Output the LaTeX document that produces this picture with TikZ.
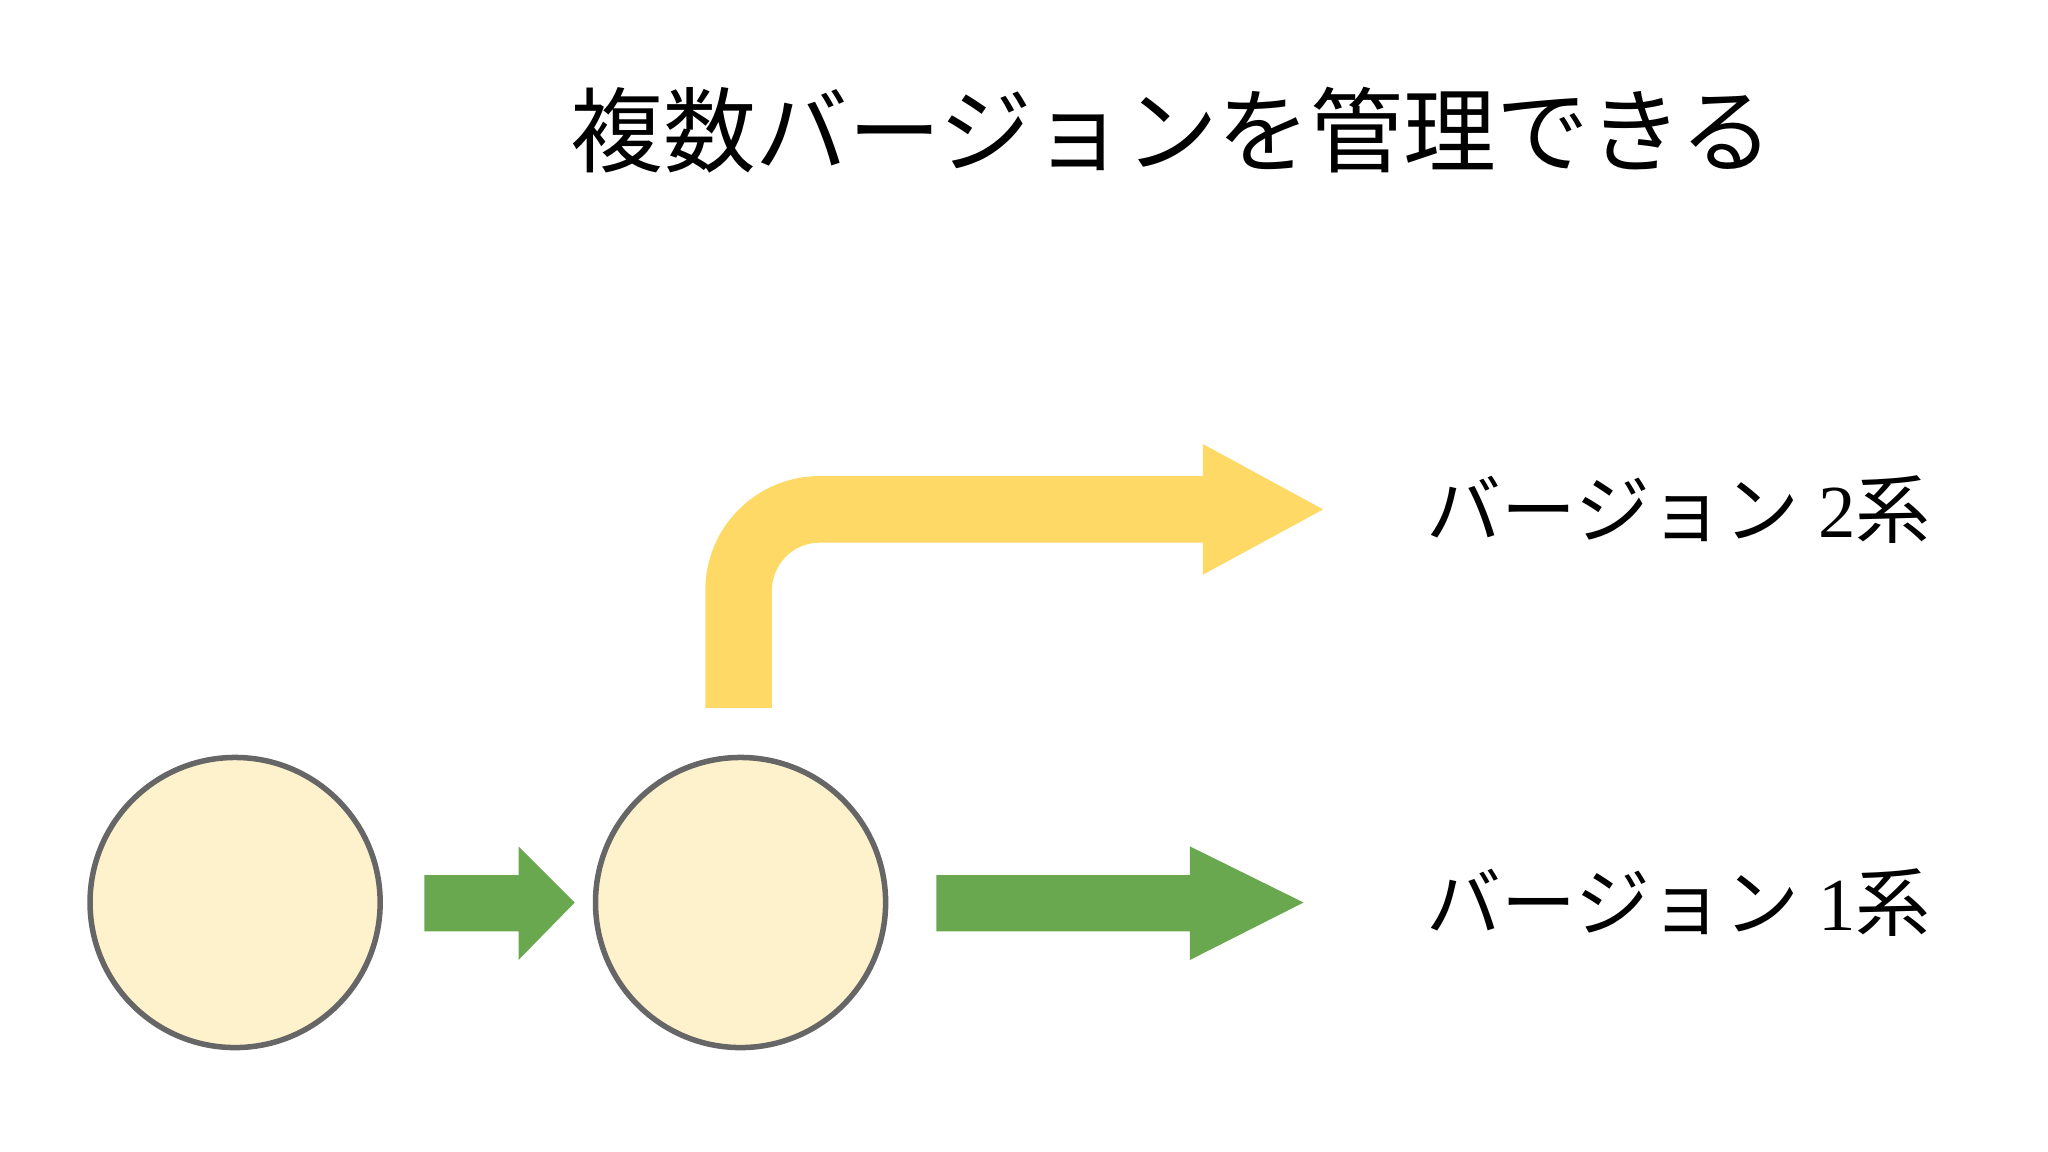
\documentclass[tikz,border=0pt]{standalone}
\usepackage{fontspec}
\newfontfamily\cjk{Noto Sans CJK JP}
\setmainfont{Liberation Serif}
\begin{document}
\begin{tikzpicture}[x=0.01cm,y=-0.01cm]
\definecolor{cfill}{HTML}{FEF2CC}
\definecolor{cgreen}{HTML}{6AA84F}
\definecolor{cyel}{HTML}{FFD966}
\tikzset{commit/.style={circle,draw=black!60,line width=1.2pt,fill=cfill,minimum size=2.22cm,inner sep=0pt},
lbl/.style={font=\fontsize{16.3pt}{20pt}\selectfont,anchor=west}}
\useasboundingbox (0,0) rectangle (1568,882);
\node[font=\cjk\fontsize{20.2pt}{25pt}\selectfont] (title) at (897,100) {複数バージョンを管理できる};
\node[commit] (c1) at (180,691) {};
\node[commit] (c2) at (567,691) {};
\fill[cgreen] (325,670) -- (397,670) -- (397,648) -- (440,691) -- (397,735) -- (397,713) -- (325,713) -- cycle;
\fill[cgreen] (717,670) -- (911,670) -- (911,648) -- (998,691) -- (911,735) -- (911,713) -- (717,713) -- cycle;
\draw[cyel,line width=0.51cm,rounded corners=0.62cm] (565.5,542) -- (565.5,390) -- (922,390);
\fill[cyel] (921,340) -- (1013,390) -- (921,440) -- cycle;
\node[lbl] (v2) at (1080,390) {{\cjk バージョン} 2{\cjk 系}};
\node[lbl] (v1) at (1080,691) {{\cjk バージョン} 1{\cjk 系}};
\end{tikzpicture}
\end{document}
